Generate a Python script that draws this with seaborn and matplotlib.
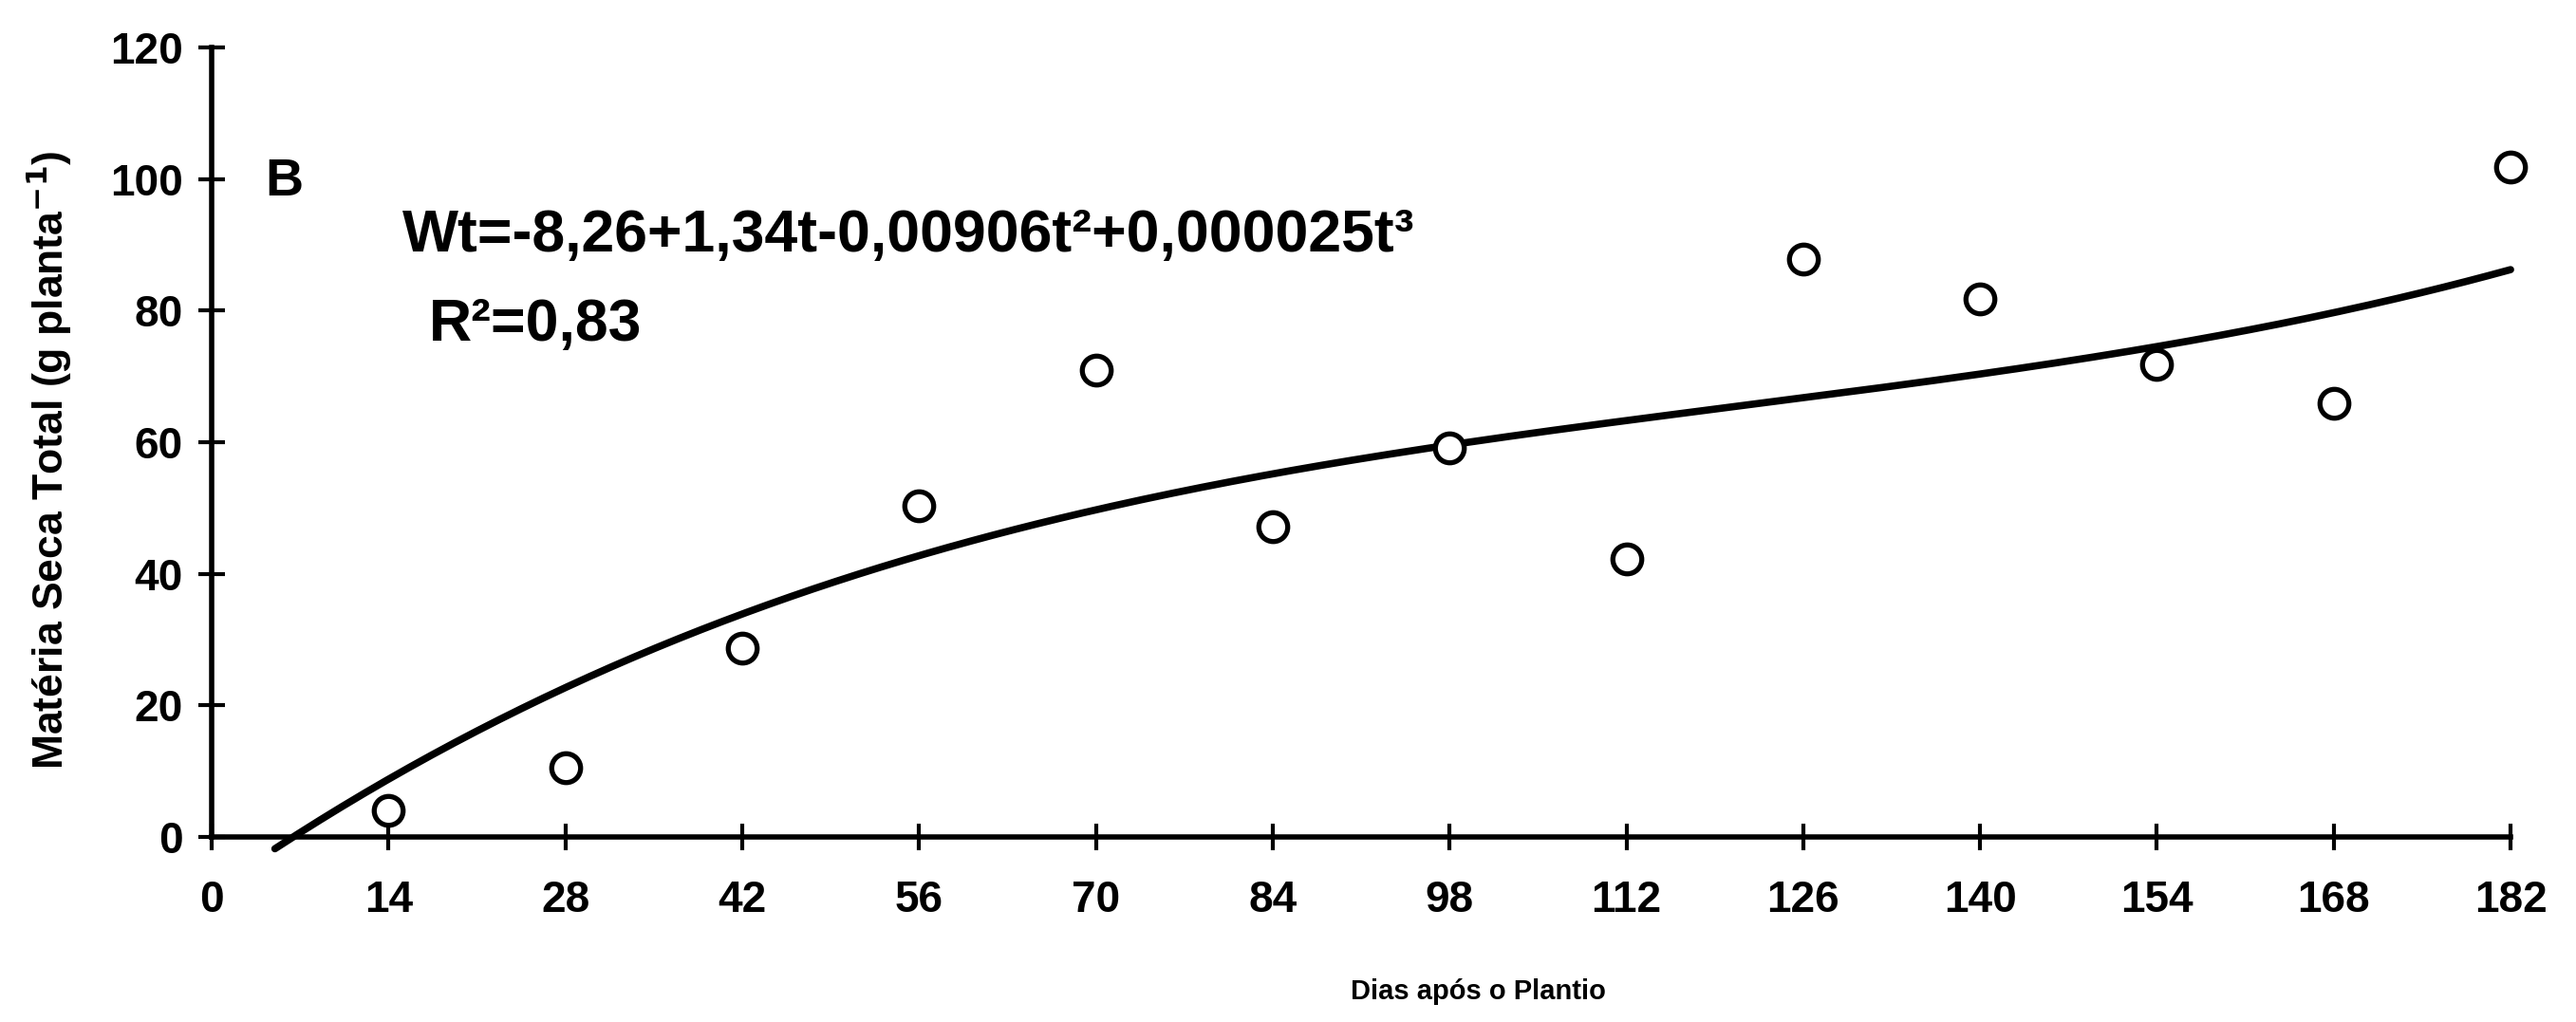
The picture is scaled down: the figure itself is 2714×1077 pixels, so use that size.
import numpy as np
import pandas as pd
import seaborn as sns
import matplotlib.pyplot as plt

# days after planting and total dry matter
dias = [14, 28, 42, 56, 70, 84, 98, 112, 126, 140, 154, 168, 182]
materia_seca = [4.0, 10.5, 28.7, 50.4, 70.9, 47.2, 59.1, 42.2, 87.8, 81.8, 71.9, 65.9, 101.8]

# coefficients printed on the chart (Wt = b0 + b1 t + b2 t^2 + b3 t^3)
coef = [-8.26, 1.34, -0.00906, 0.000025]
curve_start = 5
curve_end = 182

x_ticks = list(range(0, 183, 14))
y_ticks = list(range(0, 121, 20))

df = pd.DataFrame({"dias": dias, "ms": materia_seca})

t = np.linspace(curve_start, curve_end, 300)
fit = pd.DataFrame({"t": t, "w": np.polyval(coef[::-1], t)})

sns.set_style("white")
plt.rcParams["font.family"] = ["Liberation Sans", "DejaVu Sans"]
plt.rcParams["font.weight"] = "bold"
for key in ["text.color", "axes.labelcolor", "xtick.color", "ytick.color"]:
    plt.rcParams[key] = "black"

fig = plt.figure(figsize=(27.14, 10.77), dpi=100)
ax = fig.add_axes([0.0822, 0.181, 0.8924, 0.7726])

sns.lineplot(data=fit, x="t", y="w", ax=ax, color="black", linewidth=5.5, clip_on=False)
sns.scatterplot(data=df, x="dias", y="ms", ax=ax, s=480, marker="o",
                facecolor="white", edgecolor="black", linewidth=3.8,
                clip_on=False, zorder=3)

ax.set_xlim(0, 182)
ax.set_ylim(0, 120)
ax.set_xticks(x_ticks)
ax.set_yticks(y_ticks)
ax.tick_params(axis="both", direction="inout", length=20, width=3,
               labelsize=33, bottom=True, left=True)
ax.tick_params(axis="x", pad=22)
ax.tick_params(axis="y", pad=12)
for lab in ax.get_xticklabels() + ax.get_yticklabels():
    lab.set_fontweight("bold")

for side in ["top", "right"]:
    ax.spines[side].set_visible(False)
for side in ["left", "bottom"]:
    ax.spines[side].set_linewidth(4)
    ax.spines[side].set_color("black")

ax.set_xlabel("Dias após o Plantio", fontsize=21, fontweight="bold", va="center")
ax.xaxis.set_label_coords(0.551, -0.196)
ax.set_ylabel("Matéria Seca Total (g planta$^{-1}$)", fontsize=32,
              fontweight="bold", va="center")
ax.yaxis.set_label_coords(-0.071, 0.477)

ax.text(5.7, 99.5, "B", fontsize=40, fontweight="bold", va="center", ha="center")
ax.text(15.1, 91.3, "Wt=-8,26+1,34t-0,00906t²+0,000025t³", fontsize=45,
        fontweight="bold", va="center", ha="left")
ax.text(17.2, 77.8, "R²=0,83", fontsize=45, fontweight="bold",
        va="center", ha="left")

fig.savefig("out.png", dpi=100)
